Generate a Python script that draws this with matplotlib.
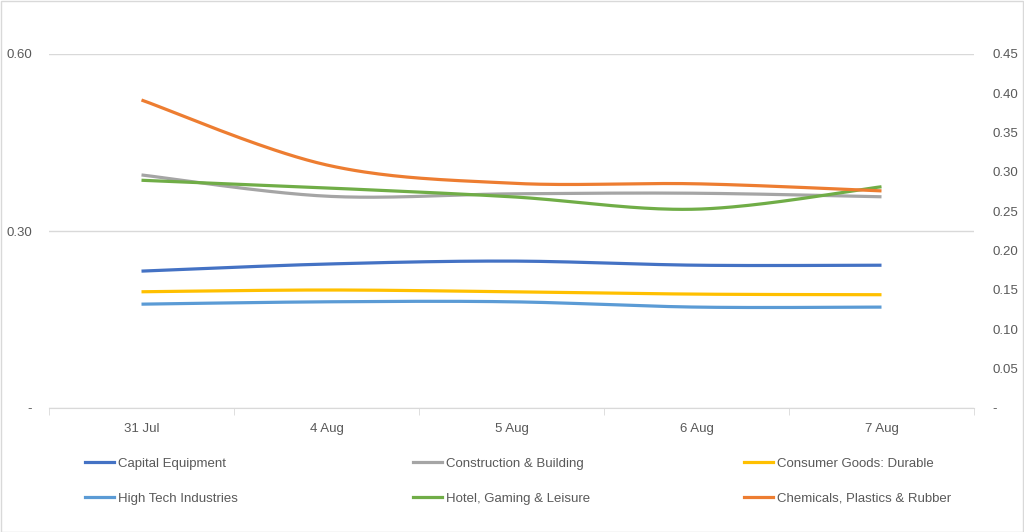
import numpy as np
import matplotlib
matplotlib.use('Agg')
import matplotlib.pyplot as plt
from matplotlib.lines import Line2D
from matplotlib.patches import Rectangle

plt.rcParams['font.family'] = ['Liberation Sans', 'DejaVu Sans']

# ----------------------------------------------------------------------
# data (left-axis units)
# ----------------------------------------------------------------------
dates = ['31 Jul', '4 Aug', '5 Aug', '6 Aug', '7 Aug']

capital_equipment = [0.232, 0.244, 0.249, 0.242, 0.242]
construction_building = [0.395, 0.359, 0.363, 0.364, 0.358]
consumer_goods_durable = [0.197, 0.200, 0.197, 0.193, 0.192]
high_tech = [0.176, 0.180, 0.180, 0.171, 0.171]
hotel_gaming = [0.386, 0.373, 0.358, 0.337, 0.375]
chemicals_plastics = [0.522, 0.412, 0.381, 0.380, 0.368]

series = [
    ('Capital Equipment', capital_equipment, '#4472C4'),
    ('Construction & Building', construction_building, '#A5A5A5'),
    ('Consumer Goods: Durable', consumer_goods_durable, '#FFC000'),
    ('High Tech Industries', high_tech, '#5B9BD5'),
    ('Hotel, Gaming & Leisure', hotel_gaming, '#70AD47'),
    ('Chemicals, Plastics & Rubber', chemicals_plastics, '#ED7D31'),
]

left_ticks = [0.0, 0.30, 0.60]
right_ticks = [0.0, 0.05, 0.10, 0.15, 0.20, 0.25, 0.30, 0.35, 0.40, 0.45]


# ----------------------------------------------------------------------
# Excel-style smoothing: cubic bezier through points
# ----------------------------------------------------------------------
def smooth(x, y, n=40):
    x = np.asarray(x, float)
    y = np.asarray(y, float)
    px = np.concatenate([[x[0]], x, [x[-1]]])
    py = np.concatenate([[y[0]], y, [y[-1]]])
    xs, ys = [], []
    t = np.linspace(0, 1, n)
    for i in range(1, len(px) - 2):
        p0 = np.array([px[i], py[i]])
        p3 = np.array([px[i + 1], py[i + 1]])
        p1 = p0 + (np.array([px[i + 1], py[i + 1]]) - np.array([px[i - 1], py[i - 1]])) / 6
        p2 = p3 - (np.array([px[i + 2], py[i + 2]]) - np.array([px[i], py[i]])) / 6
        b = ((1 - t) ** 3)[:, None] * p0 + (3 * (1 - t) ** 2 * t)[:, None] * p1 \
            + (3 * (1 - t) * t ** 2)[:, None] * p2 + (t ** 3)[:, None] * p3
        xs.extend(b[:, 0])
        ys.extend(b[:, 1])
    return xs, ys


W, H = 1024, 532
fig = plt.figure(figsize=(W / 100, H / 100), dpi=100)
fig.patches.append(Rectangle((0.5 / W, 0.5 / H), 1 - 1.5 / W, 1 - 1.5 / H,
                             transform=fig.transFigure, fill=False,
                             edgecolor='#D9D9D9', linewidth=1))

ax = fig.add_axes([49 / W, (H - 408) / H, 925 / W, 354 / H])
label_col = '#595959'

x = np.arange(len(dates))
for name, vals, col in series:
    sx, sy = smooth(x, vals)
    ax.plot(sx, sy, color=col, linewidth=2.3, solid_capstyle='butt', label=name)

ax.set_xlim(-0.5, len(dates) - 0.5)
ax.set_ylim(0, 0.6)
ax.set_yticks(left_ticks)
ax.set_yticklabels(['-' if v == 0 else f'{v:.2f}' for v in left_ticks])
ax.yaxis.grid(True, color='#D9D9D9', linewidth=1)
ax.set_axisbelow(True)
for s in ['top', 'right', 'left']:
    ax.spines[s].set_visible(False)
ax.spines['bottom'].set_color('#D9D9D9')
ax.set_xticks(x)
ax.set_xticklabels(dates)
ax.set_xticks(np.arange(-0.5, len(dates), 1), minor=True)
ax.tick_params(axis='x', which='major', length=0, pad=11, labelsize=9.5, colors=label_col)
ax.tick_params(axis='x', which='minor', length=5, color='#D9D9D9')
ax.tick_params(axis='y', length=0, pad=12, labelsize=9.5, colors=label_col)

ax2 = ax.twinx()
ax2.set_ylim(0, 0.45)
ax2.set_yticks(right_ticks)
ax2.set_yticklabels(['-' if v == 0 else f'{v:.2f}' for v in right_ticks])
ax2.tick_params(axis='y', length=0, pad=13, labelsize=9.5, colors=label_col)
for s in ax2.spines.values():
    s.set_visible(False)

# legend: three columns, evenly spaced
handles = {name: Line2D([], [], color=col, linewidth=2.3) for name, _, col in series}
names = [s[0] for s in series]
cols = [(names[0], names[3]), (names[1], names[4]), (names[2], names[5])]
col_x = [80, 408, 739]
for cx, pair in zip(col_x, cols):
    leg = fig.legend([handles[n] for n in pair], pair, loc='upper left',
                     bbox_to_anchor=(cx / W, 1 - 452 / H), frameon=False,
                     fontsize=9.5, handlelength=2.2, handletextpad=0.3,
                     labelspacing=1.75, borderaxespad=0)
    for t in leg.get_texts():
        t.set_color(label_col)

fig.savefig('out.png', dpi=100)
